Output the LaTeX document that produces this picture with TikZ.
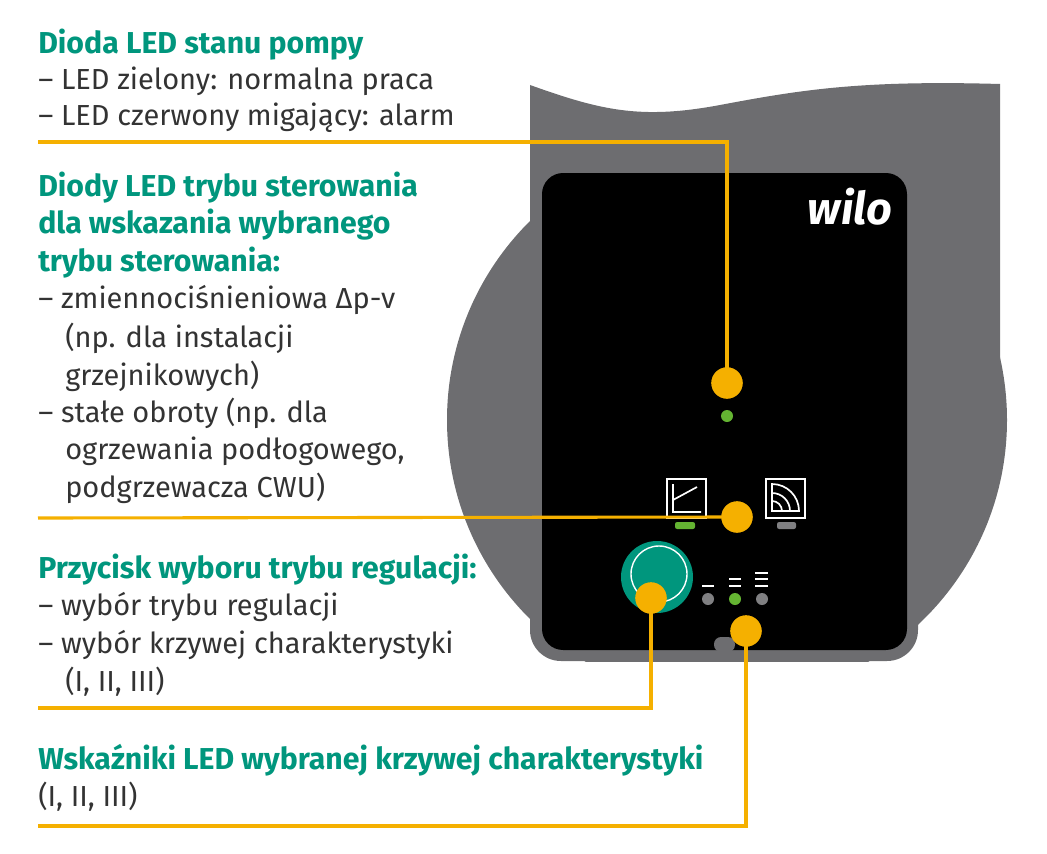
\documentclass[tikz,border=0pt]{standalone}
\usepackage{fontspec}
\setmainfont{Fira Sans}
\usetikzlibrary{positioning}
\definecolor{wgreen}{RGB}{0,150,125}
\definecolor{wgrey}{RGB}{109,109,112}
\definecolor{worange}{RGB}{245,176,0}
\definecolor{wled}{RGB}{100,180,50}
\definecolor{wdot}{RGB}{128,128,130}

\begin{document}
\begin{tikzpicture}[x=0.025cm,y=-0.025cm,
    head/.style={anchor=west,inner sep=0pt,font=\fontsize{21.5}{24}\selectfont\bfseries,text=wgreen},
    item/.style={anchor=west,inner sep=0pt,font=\fontsize{20.6}{24}\selectfont,text=black!80},
    pin/.style={circle,fill=worange,inner sep=0pt,minimum size=0.78cm},
    lead/.style={worange,line width=2.2pt},
    led/.style={circle,fill=#1,inner sep=0pt,minimum size=0.3cm}]
    \useasboundingbox (0,0) rectangle (1047,854);

    % pump body
    \fill[wgrey] (727,420) circle (280);
    \fill[white] (0,0) rectangle (1047,85);
    \fill[wgrey] (530,85) .. controls (600,110) and (640,120) .. (720,105)
        .. controls (800,90) and (860,80) .. (1000,84) -- (1000,420) -- (530,420) -- cycle;
    \fill[white] (400,662) rectangle (1047,854);
    \fill[wgrey,rounded corners=22] (530,160) rectangle (918,661);
    \fill[black,rounded corners=15] (542,173) rectangle (907,650);
    \fill[wgrey,rounded corners=5] (714,652) -- (714,637) -- (735,637) -- (735,652) -- cycle;
    \node[text=white,font=\fontsize{32}{32}\selectfont\bfseries\itshape] (logo) at (850,207) {wilo};

    % controls
    \node[led=wled] (status) at (727,416) {};
    \draw[white,line width=1.2pt] (667,479) rectangle (706,518);
    \draw[white,line width=1.2pt] (673,484) -- (673,512) -- (701,512) (673,500) -- (697,487);
    \draw[white,line width=1.2pt] (766,479) rectangle (805,518);
    \foreach \r in {10,18,27}
      \draw[white,line width=1.2pt] (772,511) -- (772,511-\r) arc (-90:0:\r) -- cycle;
    \fill[wled,rounded corners=1.5] (675,522) rectangle (695,529);
    \fill[wdot,rounded corners=1.5] (777,522) rectangle (796,529);
    \fill[wgreen] (657,577) circle (36);
    \draw[white,line width=1pt] (659,574) circle (28);
    \node[led=wdot]  (c1) at (708,599) {};
    \node[led=wled]  (c2) at (735,599) {};
    \node[led=wdot]  (c3) at (762,599) {};
    \draw[white,line width=1.3pt] (702,586) -- (714,586)
        (729,579) -- (741,579) (729,586) -- (741,586)
        (755,573) -- (768,573) (755,579) -- (768,579) (755,586) -- (768,586);

    % leaders
    \node[pin] (p1) at (727,383) {};
    \node[pin] (p2) at (737,517) {};
    \node[pin] (p3) at (651,598) {};
    \node[pin] (p4) at (746,631) {};
    \coordinate (e1) at (38,142);
    \coordinate (e2) at (38,518);
    \coordinate (e3) at (38,708);
    \coordinate (e4) at (38,826);
    \draw[lead] (p1.center) -- (p1.center |- e1) -- (e1);
    \draw[lead] (p2.center) -- (e2);
    \draw[lead] (p3.center) -- (p3.center |- e3) -- (e3);
    \draw[lead] (p4.center) -- (p4.center |- e4) -- (e4);
    \node[pin] at (p1) {};
    \node[pin] at (p2) {};
    \node[pin] at (p3) {};
    \node[pin] at (p4) {};

    % texts
    \node[head] (h1)  at (38,45)  {Dioda LED stanu pompy};
    \node[item] (t1a) at (38,81)  {– LED zielony: normalna praca};
    \node[item] (t1b) at (38,118) {– LED czerwony migający: alarm};

    \node[head] (h2a) at (38,188) {Diody LED trybu sterowania};
    \node[head] (h2b) at (38,225) {dla wskazania wybranego};
    \node[head] (h2c) at (38,263) {trybu sterowania:};
    \node[item] (t2a) at (38,300) {– zmiennociśnieniowa Δp-v};
    \node[item] (t2b) at (65,338) {(np. dla instalacji};
    \node[item] (t2c) at (65,376) {grzejnikowych)};
    \node[item] (t2d) at (38,413) {– stałe obroty (np. dla};
    \node[item] (t2e) at (65,451) {ogrzewania podłogowego,};
    \node[item] (t2f) at (65,488) {podgrzewacza CWU)};

    \node[head] (h3)  at (38,570) {Przycisk wyboru trybu regulacji:};
    \node[item] (t3a) at (38,607) {– wybór trybu regulacji};
    \node[item] (t3b) at (38,645) {– wybór krzywej charakterystyki};
    \node[item] (t3c) at (65,682) {(I, II, III)};

    \node[head] (h4)  at (38,760) {Wskaźniki LED wybranej krzywej charakterystyki};
    \node[item] (t4)  at (38,797) {(I, II, III)};
\end{tikzpicture}
\end{document}
